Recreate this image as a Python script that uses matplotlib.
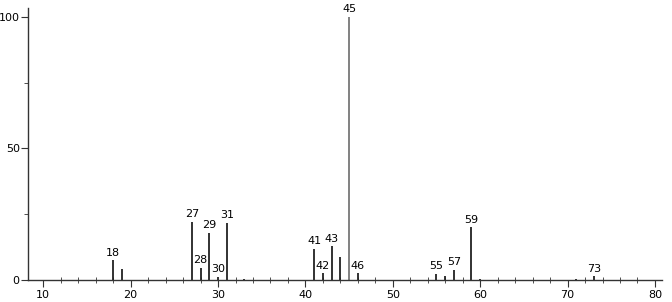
import matplotlib.pyplot as plt
from matplotlib.ticker import MultipleLocator

# m/z peaks and relative intensities
mz = [18, 19, 27, 28, 29, 30, 31, 33, 41, 42, 43, 44, 45, 46, 55, 56, 57, 59, 60, 71, 73]
intensity = [7.4, 4.0, 22.0, 4.6, 17.8, 1.1, 21.6, 0.5, 11.8, 2.5, 12.8, 8.7, 100.0, 2.5,
             2.4, 1.4, 3.8, 20.0, 0.5, 0.3, 1.4]
labeled = [18, 27, 28, 29, 30, 31, 41, 42, 43, 45, 46, 55, 57, 59, 73]

fig = plt.figure(figsize=(6.72, 3.02), dpi=100)
ax = fig.add_axes([0.0417, 0.073, 0.9433, 0.9005])

for x, y in zip(mz, intensity):
    color = '#777777' if y >= 100 else '#222222'
    ax.vlines(x, 0, y, color=color, linewidth=1.3)
    if x in labeled:
        ax.text(x, y + 1.0, str(x), ha='center', va='bottom', fontsize=8,
                family='DejaVu Sans', clip_on=False)

ax.set_xlim(8.25, 80.8)
ax.set_ylim(0, 103.3)
for side in ['top', 'right']:
    ax.spines[side].set_visible(False)
for side in ['left', 'bottom']:
    ax.spines[side].set_color('#333333')
    ax.spines[side].set_linewidth(1.0)

ax.xaxis.set_major_locator(MultipleLocator(10))
ax.xaxis.set_minor_locator(MultipleLocator(2))
ax.yaxis.set_major_locator(MultipleLocator(50))
ax.yaxis.set_minor_locator(MultipleLocator(25))
ax.tick_params(axis='x', which='major', length=5, direction='out', labelsize=8, pad=2, color='#333333')
ax.tick_params(axis='x', which='minor', length=4, direction='inout', color='#333333')
ax.tick_params(axis='y', which='major', length=5, direction='out', labelsize=8, pad=1, color='#333333')
ax.tick_params(axis='y', which='minor', length=3, direction='out', color='#333333')

fig.savefig('out.png', dpi=100)
